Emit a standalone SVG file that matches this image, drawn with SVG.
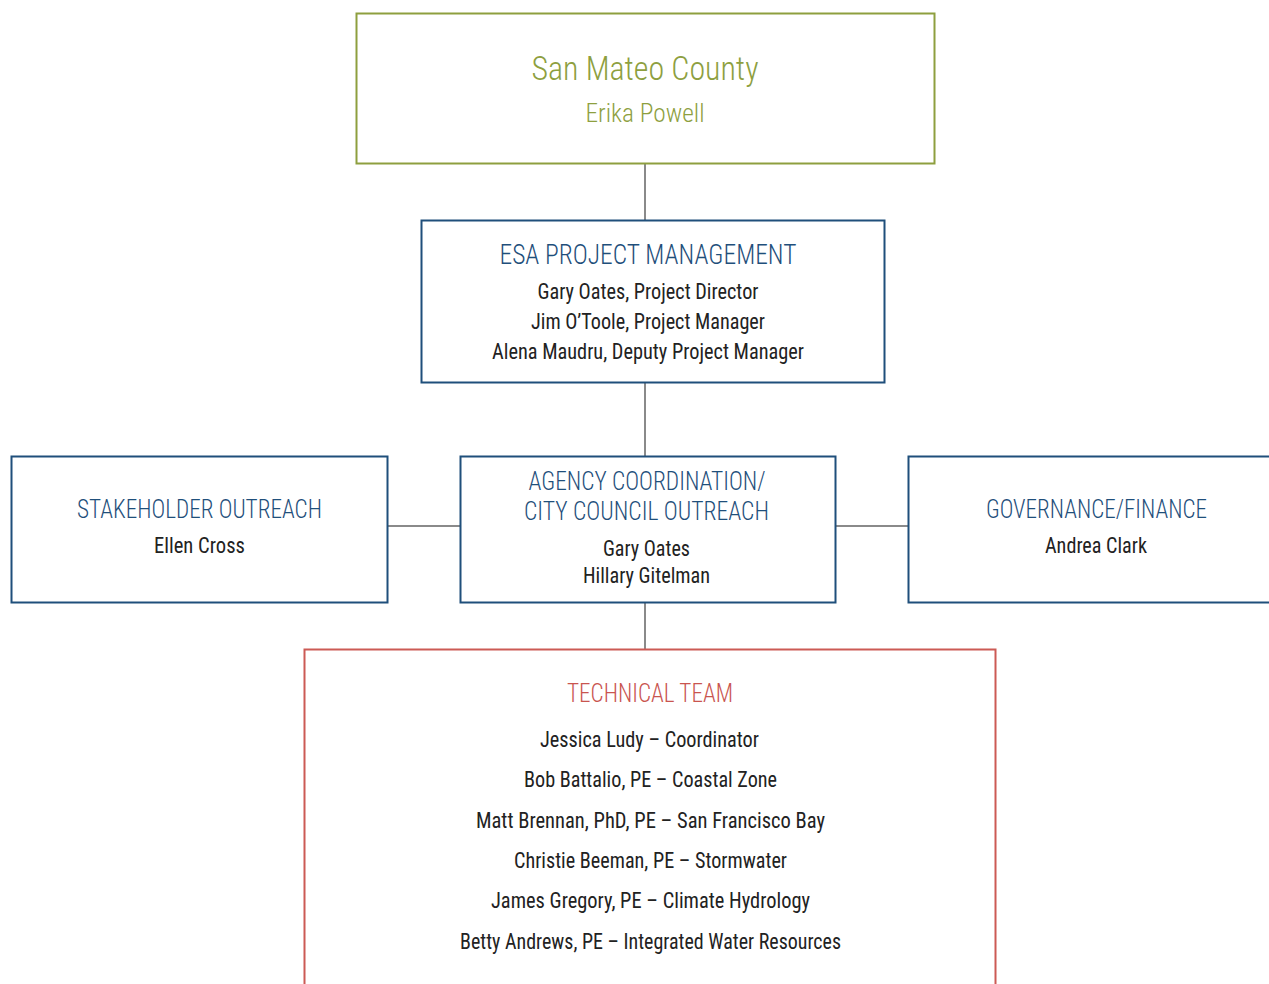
<svg xmlns="http://www.w3.org/2000/svg" width="1269" height="984" viewBox="0 0 1269 984">
<style>
text{font-family:"Liberation Sans Narrow","Roboto Condensed","DejaVu Sans Condensed","Liberation Sans",sans-serif;text-anchor:middle;font-weight:300}
.box{fill:#fff;stroke-width:2}
.green{stroke:#8e9f3f}
.blue{stroke:#1f4f7b}
.red{stroke:#cc5a55}
.tg{fill:#8e9f3f}
.tb{fill:#1f4f7b}
.tr{fill:#c9554f}
.tk{fill:#222;font-weight:400}
.h1{font-size:34px}
.h2{font-size:27px}
.h3{font-size:25px}
.b{font-size:22px}
.conn line{stroke:#8a8a8a;stroke-width:2}
</style>
<rect width="1269" height="984" fill="#fff"/>
<g id="connectors" class="conn">
<line x1="645" y1="164" x2="645" y2="220"/>
<line x1="645" y1="383" x2="645" y2="456"/>
<line x1="645" y1="603" x2="645" y2="649"/>
<line x1="388" y1="526" x2="460" y2="526"/>
<line x1="836" y1="526" x2="908" y2="526"/>
</g>
<g id="san-mateo">
<rect class="box green" x="356.5" y="13.5" width="578" height="150"/>
<text class="tg h1" x="645" y="80" textLength="227" lengthAdjust="spacingAndGlyphs">San Mateo County</text>
<text class="tg h3" x="645" y="122" textLength="119" lengthAdjust="spacingAndGlyphs">Erika Powell</text>
</g>
<g id="esa-pm">
<rect class="box blue" x="421.5" y="220.5" width="463" height="162"/>
<text class="tb h2" x="648" y="264" textLength="297" lengthAdjust="spacingAndGlyphs">ESA PROJECT MANAGEMENT</text>
<text class="tk b" x="648" y="299" textLength="221" lengthAdjust="spacingAndGlyphs">Gary Oates, Project Director</text>
<text class="tk b" x="648" y="329" textLength="234" lengthAdjust="spacingAndGlyphs">Jim O’Toole, Project Manager</text>
<text class="tk b" x="648" y="359" textLength="312" lengthAdjust="spacingAndGlyphs">Alena Maudru, Deputy Project Manager</text>
</g>
<g id="stakeholder">
<rect class="box blue" x="11.5" y="456.5" width="376" height="146"/>
<text class="tb h3" x="199.5" y="518" textLength="245" lengthAdjust="spacingAndGlyphs">STAKEHOLDER OUTREACH</text>
<text class="tk b" x="199.5" y="553" textLength="91" lengthAdjust="spacingAndGlyphs">Ellen Cross</text>
</g>
<g id="agency">
<rect class="box blue" x="460.5" y="456.5" width="375" height="146"/>
<text class="tb h3" x="647" y="490" textLength="237" lengthAdjust="spacingAndGlyphs">AGENCY COORDINATION/</text>
<text class="tb h3" x="646.5" y="520" textLength="245" lengthAdjust="spacingAndGlyphs">CITY COUNCIL OUTREACH</text>
<text class="tk b" x="646.5" y="556" textLength="87" lengthAdjust="spacingAndGlyphs">Gary Oates</text>
<text class="tk b" x="646.5" y="583" textLength="127" lengthAdjust="spacingAndGlyphs">Hillary Gitelman</text>
</g>
<g id="governance">
<rect class="box blue" x="908.5" y="456.5" width="372" height="146"/>
<text class="tb h3" x="1096.5" y="518" textLength="221" lengthAdjust="spacingAndGlyphs">GOVERNANCE/FINANCE</text>
<text class="tk b" x="1096" y="553" textLength="102" lengthAdjust="spacingAndGlyphs">Andrea Clark</text>
</g>
<g id="technical">
<rect class="box red" x="304.5" y="649.5" width="691" height="350"/>
<text class="tr h3" x="650" y="702" textLength="166" lengthAdjust="spacingAndGlyphs">TECHNICAL TEAM</text>
<text class="tk b" x="649.5" y="747" textLength="219" lengthAdjust="spacingAndGlyphs">Jessica Ludy – Coordinator</text>
<text class="tk b" x="650.5" y="787" textLength="253" lengthAdjust="spacingAndGlyphs">Bob Battalio, PE – Coastal Zone</text>
<text class="tk b" x="650.5" y="828" textLength="349" lengthAdjust="spacingAndGlyphs">Matt Brennan, PhD, PE – San Francisco Bay</text>
<text class="tk b" x="650.5" y="868" textLength="273" lengthAdjust="spacingAndGlyphs">Christie Beeman, PE – Stormwater</text>
<text class="tk b" x="650.5" y="908" textLength="319" lengthAdjust="spacingAndGlyphs">James Gregory, PE – Climate Hydrology</text>
<text class="tk b" x="650.5" y="949" textLength="381" lengthAdjust="spacingAndGlyphs">Betty Andrews, PE – Integrated Water Resources</text>
</g>
</svg>
